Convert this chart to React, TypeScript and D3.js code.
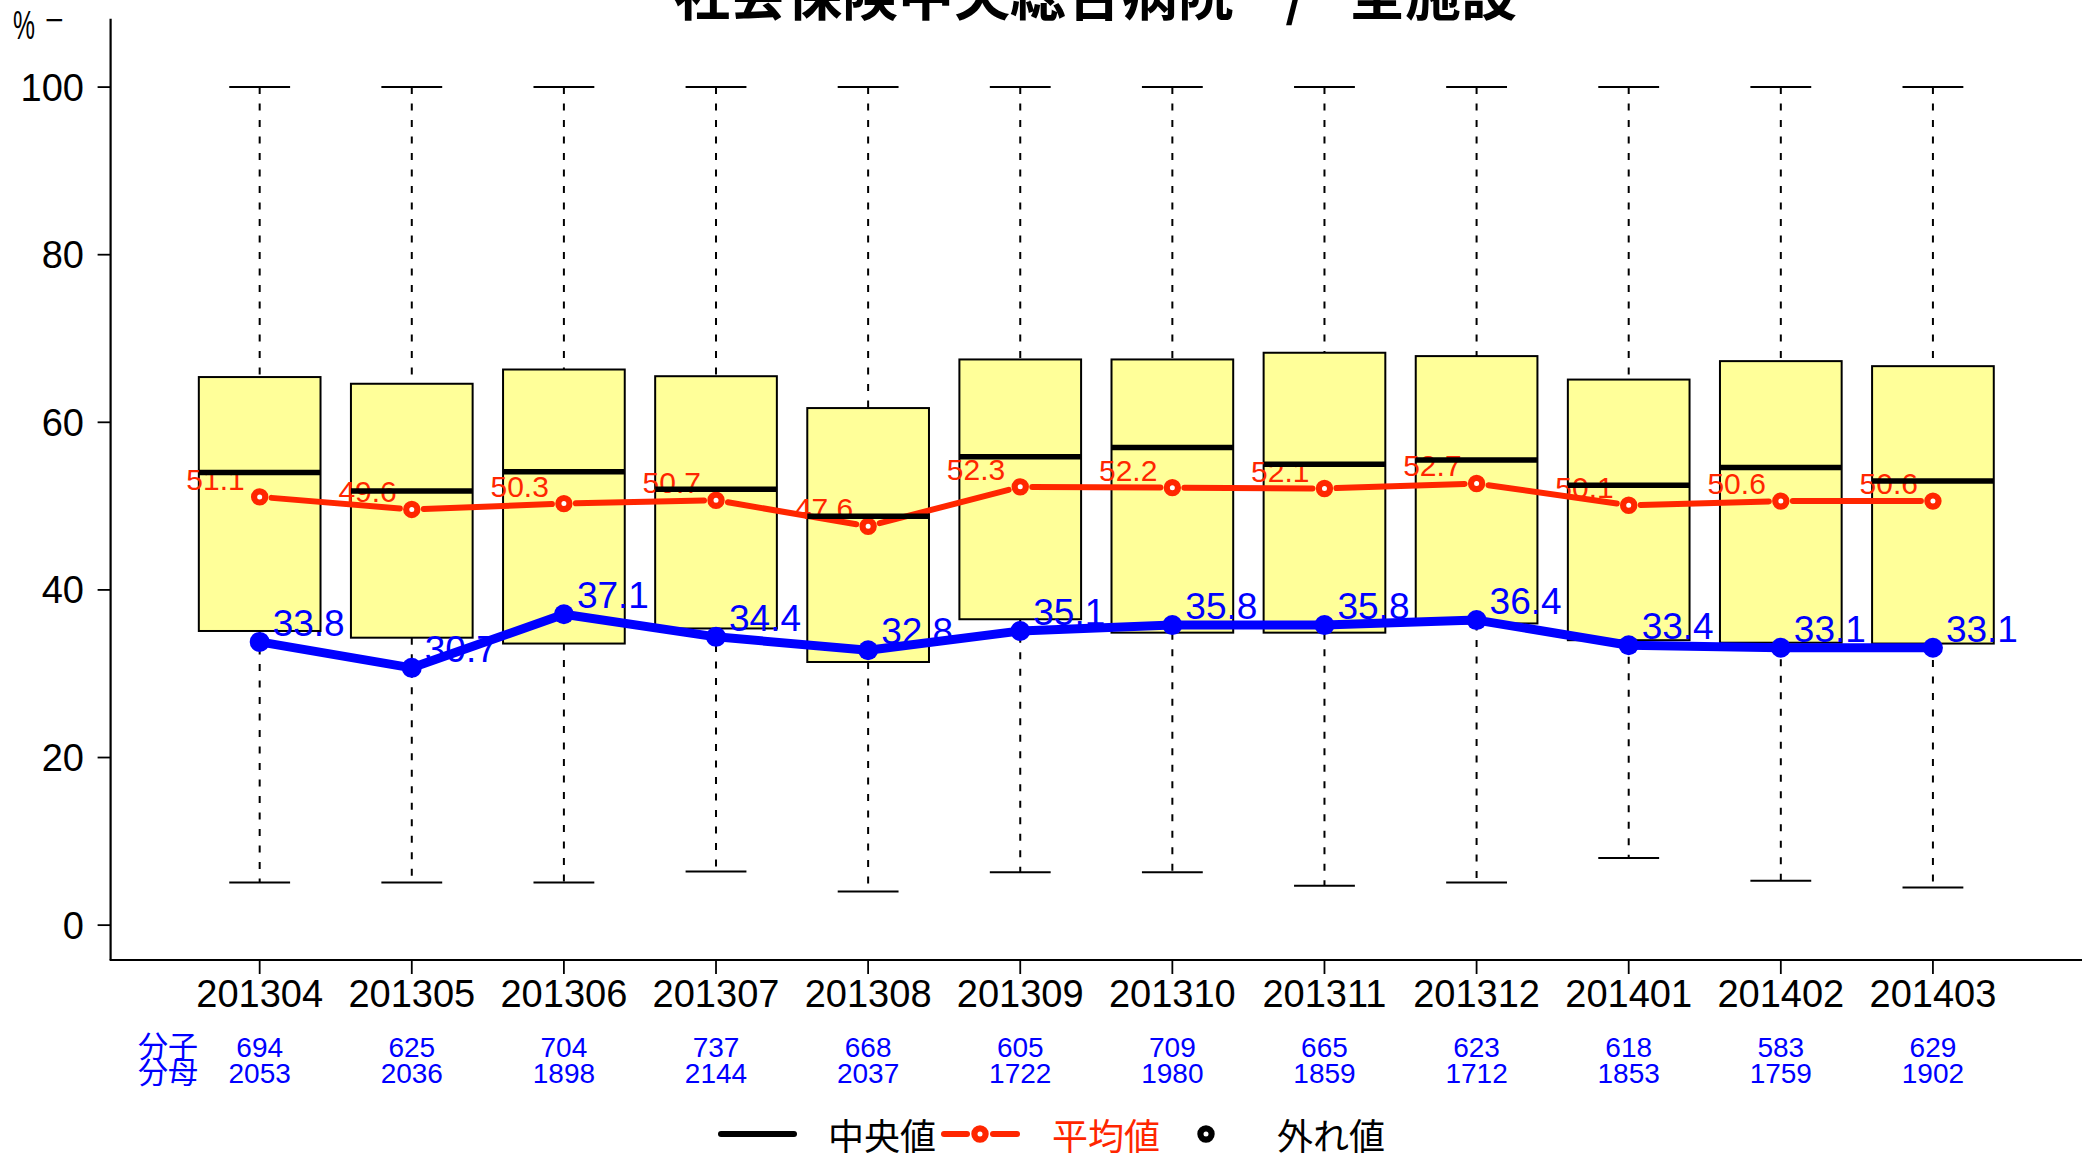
import React from "react";
import * as d3 from "d3";

const categories = ["201304","201305","201306","201307","201308","201309","201310","201311","201312","201401","201402","201403"];
const upperWhisker = [100,100,100,100,100,100,100,100,100,100,100,100];
const q3 = [65.4,64.6,66.3,65.5,61.7,67.5,67.5,68.3,67.9,65.1,67.3,66.7];
const medians = [54.0,51.8,54.1,52.0,48.8,55.9,57.0,55.0,55.5,52.5,54.6,53.0];
const q1 = [35.1,34.3,33.6,35.4,31.4,36.5,34.9,34.9,36.0,34.0,33.7,33.6];
const lowerWhisker = [5.1,5.1,5.1,6.4,4.0,6.3,6.3,4.7,5.1,8.0,5.3,4.5];
const means = [51.1,49.6,50.3,50.7,47.6,52.3,52.2,52.1,52.7,50.1,50.6,50.6];
const rates = [33.8,30.7,37.1,34.4,32.8,35.1,35.8,35.8,36.4,33.4,33.1,33.1];
const numerators = [694,625,704,737,668,605,709,665,623,618,583,629];
const denominators = [2053,2036,1898,2144,2037,1722,1980,1859,1712,1853,1759,1902];
const yTicks = [0,20,40,60,80,100];
const titleMain = "社会保険中央総合病院";
const titleSep = "/";
const titleSub = "全施設";

const W = 2089, H = 1155;
const SANS = "'Liberation Sans', Arial, Helvetica, sans-serif";
const CJK = "'Noto Sans CJK JP', 'Noto Sans CJK SC', sans-serif";
const RED = "#FF2600";
const BLUE = "#0000FF";

export default function App() {
  const x = d3.scaleLinear().domain([0.02, 12.98]).range([110.6, 2082]);
  const y = d3.scaleLinear().domain([-4.16, 108.16]).range([960, 18.7]);
  const unit = x(2) - x(1);
  const boxW = unit * 0.8;
  const capW = unit * 0.4;
  const px = (i: number) => x(i + 1);

  const gapSegs = (vals: number[], gap: number) => {
    const segs: { x1: number; y1: number; x2: number; y2: number }[] = [];
    for (let i = 0; i < vals.length - 1; i++) {
      const ax = px(i), ay = y(vals[i]), bx = px(i + 1), by = y(vals[i + 1]);
      const dx = bx - ax, dy = by - ay;
      const len = Math.sqrt(dx * dx + dy * dy);
      const ux = dx / len, uy = dy / len;
      segs.push({ x1: ax + ux * gap, y1: ay + uy * gap, x2: bx - ux * gap, y2: by - uy * gap });
    }
    return segs;
  };

  const blueLine = d3.line<number>().x((_, i) => px(i)).y((d) => y(d))(rates) || "";

  return (
    <svg width={W} height={H} style={{ position: "absolute", left: 0, top: 0, display: "block", background: "#fff" }}>
      {/* title */}
      <text y={15} fontFamily={CJK} fontWeight="bold" fontSize={56} fill="#000">
        <tspan x={674}>{titleMain}</tspan>
        <tspan x={1296} textAnchor="middle">{titleSep}</tspan>
        <tspan x={1349}>{titleSub}</tspan>
      </text>

      {/* y unit label */}
      <text x={13} y={39} fontFamily={SANS} fontSize={40} textLength={22} lengthAdjust="spacingAndGlyphs">%</text>
      <text x={45} y={31} fontFamily={SANS} fontSize={32}>−</text>

      {/* axes */}
      <line x1={x(0.02)} x2={x(0.02)} y1={y(108.16)} y2={y(-4.16)} stroke="#000" strokeWidth={2.2} />
      <line x1={x(0.02) - 1} x2={x(12.98)} y1={y(-4.16)} y2={y(-4.16)} stroke="#000" strokeWidth={2.2} />
      {yTicks.map((t) => (
        <g key={"yt" + t}>
          <line x1={x(0.02) - 13} x2={x(0.02)} y1={y(t)} y2={y(t)} stroke="#000" strokeWidth={1.8} />
          <text x={84} y={y(t) + 13.5} textAnchor="end" fontFamily={SANS} fontSize={38}>{t}</text>
        </g>
      ))}
      {categories.map((c, i) => (
        <g key={"xt" + c}>
          <line x1={px(i)} x2={px(i)} y1={y(-4.16)} y2={y(-4.16) + 14} stroke="#000" strokeWidth={1.8} />
          <text x={px(i)} y={1007} textAnchor="middle" fontFamily={SANS} fontSize={38}>{c}</text>
          <text x={px(i)} y={1057} textAnchor="middle" fontFamily={SANS} fontSize={28} fill={BLUE}>{numerators[i]}</text>
          <text x={px(i)} y={1083} textAnchor="middle" fontFamily={SANS} fontSize={28} fill={BLUE}>{denominators[i]}</text>
        </g>
      ))}
      <text x={168} y={1057} textAnchor="middle" fontFamily={CJK} fontSize={30} fill={BLUE}>分子</text>
      <text x={168} y={1083} textAnchor="middle" fontFamily={CJK} fontSize={30} fill={BLUE}>分母</text>

      {/* boxes */}
      {categories.map((c, i) => {
        const cx = px(i);
        return (
          <g key={"box" + c}>
            <line x1={cx} x2={cx} y1={y(upperWhisker[i])} y2={y(q3[i])} stroke="#000" strokeWidth={2} strokeDasharray="7,9.5" />
            <line x1={cx} x2={cx} y1={y(q1[i])} y2={y(lowerWhisker[i])} stroke="#000" strokeWidth={2} strokeDasharray="7,9.5" />
            <line x1={cx - capW / 2} x2={cx + capW / 2} y1={y(upperWhisker[i])} y2={y(upperWhisker[i])} stroke="#000" strokeWidth={2} />
            <line x1={cx - capW / 2} x2={cx + capW / 2} y1={y(lowerWhisker[i])} y2={y(lowerWhisker[i])} stroke="#000" strokeWidth={2} />
            <rect x={cx - boxW / 2} y={y(q3[i])} width={boxW} height={y(q1[i]) - y(q3[i])} fill="#FFFF99" stroke="#000" strokeWidth={2} />
          </g>
        );
      })}

      {/* mean line (red) */}
      {gapSegs(means, 12).map((s, i) => (
        <line key={"ms" + i} x1={s.x1} y1={s.y1} x2={s.x2} y2={s.y2} stroke={RED} strokeWidth={6} strokeLinecap="round" />
      ))}
      {means.map((m, i) => (
        <g key={"mp" + i}>
          <circle cx={px(i)} cy={y(m)} r={5.6} fill="#fff" stroke={RED} strokeWidth={6.2} />
          <text x={px(i) - 15} y={y(m) - 7} textAnchor="end" fontFamily={SANS} fontSize={30} fill={RED}>{m.toFixed(1)}</text>
        </g>
      ))}

      {/* medians drawn on top */}
      {categories.map((c, i) => (
        <line key={"med" + c} x1={px(i) - boxW / 2} x2={px(i) + boxW / 2} y1={y(medians[i])} y2={y(medians[i])} stroke="#000" strokeWidth={5.5} />
      ))}

      {/* rate line (blue) */}
      <path d={blueLine} fill="none" stroke={BLUE} strokeWidth={9} strokeLinejoin="round" />
      {rates.map((r, i) => (
        <g key={"rp" + i}>
          <circle cx={px(i)} cy={y(r)} r={10} fill={BLUE} />
          <text x={px(i) + 13} y={y(r) - 6} fontFamily={SANS} fontSize={37} fill={BLUE}>{r.toFixed(1)}</text>
        </g>
      ))}

      {/* legend */}
      <line x1={721} x2={794} y1={1134} y2={1134} stroke="#000" strokeWidth={6} strokeLinecap="round" />
      <text x={828} y={1150} fontFamily={CJK} fontSize={36} fill="#000">中央値</text>
      <line x1={944} x2={967} y1={1134} y2={1134} stroke={RED} strokeWidth={6} strokeLinecap="round" />
      <line x1={993} x2={1017} y1={1134} y2={1134} stroke={RED} strokeWidth={6} strokeLinecap="round" />
      <circle cx={980} cy={1134} r={5.6} fill="#fff" stroke={RED} strokeWidth={6.2} />
      <text x={1052} y={1150} fontFamily={CJK} fontSize={36} fill={RED}>平均値</text>
      <circle cx={1206} cy={1134} r={5.6} fill="#fff" stroke="#000" strokeWidth={6.2} />
      <text x={1277} y={1150} fontFamily={CJK} fontSize={36} fill="#000">外れ値</text>
    </svg>
  );
}
